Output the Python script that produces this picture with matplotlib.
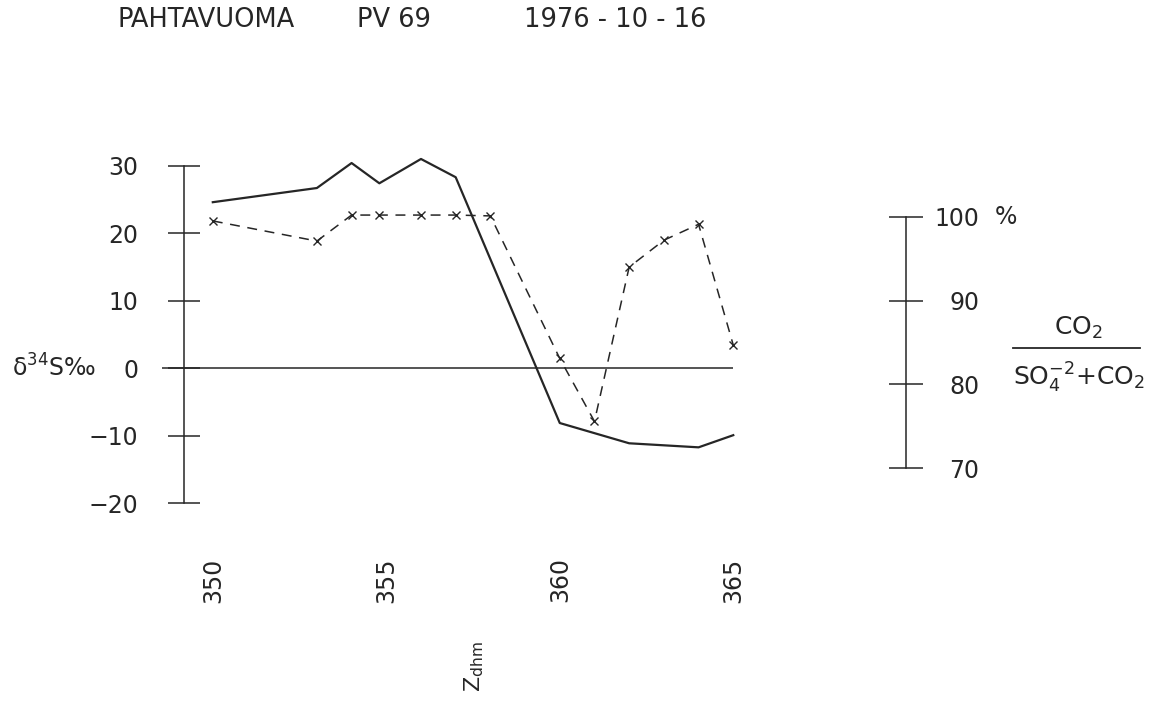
import matplotlib
matplotlib.use('Agg')
import matplotlib.pyplot as plt
from matplotlib.lines import Line2D
from matplotlib.transforms import blended_transform_factory


# depth (dhm) and delta34S (per mil) - solid line
depth_s = [350, 353, 354, 354.8, 356, 357, 360, 362, 364, 365]
d34s = [24.6, 26.7, 30.4, 27.4, 31.0, 28.3, -8.1, -11.1, -11.7, -9.9]

# depth (dhm) and CO2 / (SO4 + CO2) in % - dashed line with crosses
depth_r = [350, 353, 354, 354.8, 356, 357, 358, 360, 361, 362, 363, 364, 365]
ratio = [99.5, 97.1, 100.2, 100.2, 100.2, 100.2, 100.1, 83.1, 75.6, 94.0, 97.2, 99.1, 84.7]

left_ticks = [-20, -10, 0, 10, 20, 30]
right_ticks = [70, 80, 90, 100]
x_ticks = [350, 355, 360, 365]

INK = '#262626'
FS = 17

plt.rcParams['font.family'] = ['DejaVu Sans']
plt.rcParams['mathtext.fontset'] = 'dejavusans'

fig = plt.figure(figsize=(11.52, 7.05), dpi=100)
W, H = 1152, 705
ax = fig.add_axes([184 / W, 1 - 520 / H, (905.7 - 184) / W, 380 / H])
ax.set_xlim(349.17, 369.97)
ax.set_ylim(-22.46, 33.81)

ax2 = ax.twinx()
ax2.set_ylim(63.84, 109.15)

# data lines
ax.plot(depth_s, d34s, color=INK, lw=1.6, clip_on=False)
ax2.plot(depth_r, ratio, color=INK, lw=1.1, ls=(0, (6.5, 5)),
         marker='x', ms=5.5, mew=1.0, clip_on=False)

# zero line
ax.hlines(0, 348.55, depth_s[-1], color=INK, lw=1.1, clip_on=False)

# left axis
for s in ['top', 'right', 'bottom']:
    ax.spines[s].set_visible(False)
ax.spines['left'].set_bounds(left_ticks[0], left_ticks[-1])
ax.spines['left'].set_color(INK)
ax.spines['left'].set_linewidth(1.1)
ax.set_yticks(left_ticks)
ax.set_yticklabels(['\u221220', '\u221210', '0', '10', '20', '30'])
ax.tick_params(axis='y', direction='inout', length=23.5, width=1.1,
               pad=21, labelsize=FS, colors=INK)
ax.set_xticks(x_ticks)
ax.set_xticklabels([str(v) for v in x_ticks], rotation=90)
ax.tick_params(axis='x', length=0, pad=27, labelsize=FS, colors=INK)

# right axis
for s in ['top', 'left', 'bottom']:
    ax2.spines[s].set_visible(False)
ax2.spines['right'].set_bounds(right_ticks[0], right_ticks[-1])
ax2.spines['right'].set_color(INK)
ax2.spines['right'].set_linewidth(1.1)
ax2.set_yticks(right_ticks)
ax2.set_yticklabels([str(v) for v in right_ticks])
ax2.tick_params(axis='y', direction='inout', length=24, width=1.1,
                pad=41, labelsize=FS, colors=INK)
for t in ax2.get_yticklabels():
    t.set_horizontalalignment('right')
ax2.text(1.1237, 100, '%', transform=ax2.get_yaxis_transform(),
         ha='left', va='center', fontsize=FS, color=INK)

# axis labels
tr = blended_transform_factory(fig.transFigure, ax.transData)
ax.text(12 / W, 0, '\u03b4$^{34}$S\u2030', transform=tr, ha='left', va='center',
        fontsize=FS, color=INK)
fig.text(474 / W, 1 - 667 / H, 'Z$_{\\mathrm{dhm}}$', rotation=90,
         ha='center', va='center', fontsize=16, color=INK)

# ratio label as a fraction
fig.text(1078 / W, 1 - 328 / H, 'CO$_2$', ha='center', va='center',
         fontsize=18, color=INK)
fig.text(1079 / W, 1 - 378 / H, 'SO$_4^{-2}$+CO$_2$', ha='center', va='center',
         fontsize=18, color=INK)
fig.add_artist(Line2D([1013 / W, 1140 / W], [1 - 348.3 / H] * 2,
                      color=INK, lw=1.3))

# title
fig.text(117 / W, 1 - 20 / H, 'PAHTAVUOMA', ha='left', va='center', fontsize=18.5, color=INK)
fig.text(357 / W, 1 - 20 / H, 'PV 69', ha='left', va='center', fontsize=18.5, color=INK)
fig.text(524 / W, 1 - 20 / H, '1976 - 10 - 16', ha='left', va='center', fontsize=18.5, color=INK)

fig.savefig('out.png', dpi=100)
